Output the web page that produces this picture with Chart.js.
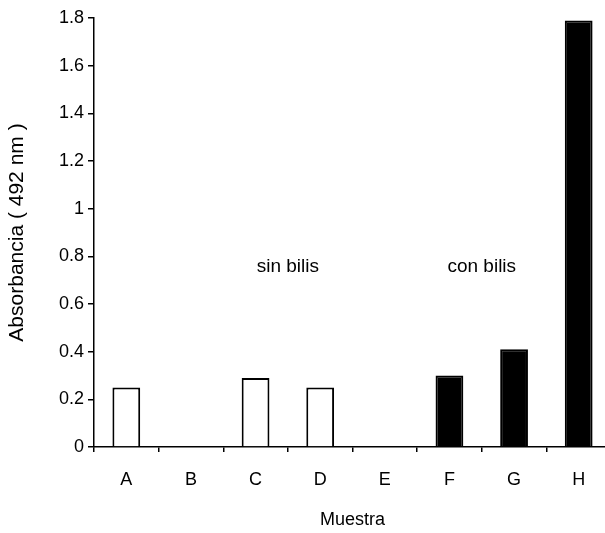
<!DOCTYPE html>
<html>
<head>
<meta charset="utf-8">
<script src="https://cdn.jsdelivr.net/npm/chart.js@4"></script>
<style>
html,body{margin:0;padding:0;background:#fff;overflow:hidden;}
#wrap{width:611px;height:533px;}
</style>
</head>
<body>
<div id="wrap"><canvas id="c" width="611" height="533"></canvas></div>
<script>
const categories = ['A','B','C','D','E','F','G','H'];
const absorbance = [0.25, 0, 0.29, 0.25, 0, 0.30, 0.41, 1.79];
const withBile = [false, false, false, false, true, true, true, true];
const yTicks = [0, 0.2, 0.4, 0.6, 0.8, 1, 1.2, 1.4, 1.6, 1.8];
const groupLabels = [
  {text: 'sin bilis', between: [2, 3], y: 0.755},
  {text: 'con bilis', between: [5, 6], y: 0.755}
];

const FONT = '"Liberation Sans", Arial, sans-serif';

const annotatePlugin = {
  id: 'groupText',
  afterDatasetsDraw(chart) {
    const ctx = chart.ctx;
    const xs = chart.scales.x, ys = chart.scales.y;
    ctx.save();
    ctx.fillStyle = '#000';
    ctx.font = '19px ' + FONT;
    ctx.textAlign = 'center';
    ctx.textBaseline = 'middle';
    groupLabels.forEach(g => {
      const x = (xs.getPixelForValue(g.between[0]) + xs.getPixelForValue(g.between[1])) / 2;
      ctx.fillText(g.text, x, ys.getPixelForValue(g.y));
    });
    ctx.restore();
  }
};

new Chart(document.getElementById('c'), {
  type: 'bar',
  data: {
    labels: categories,
    datasets: [{
      data: absorbance,
      backgroundColor: ctx => withBile[ctx.dataIndex] ? '#000' : '#fff',
      borderColor: '#000',
      borderWidth: 2,
      borderSkipped: 'bottom',
      barPercentage: 0.43,
      categoryPercentage: 1
    }]
  },
  options: {
    responsive: false,
    animation: false,
    devicePixelRatio: 1,
    layout: {padding: {top: 18, left: 0, right: 0, bottom: 0}},
    plugins: {legend: {display: false}, tooltip: {enabled: false}},
    scales: {
      x: {
        grid: {display: true, drawOnChartArea: false, drawTicks: true, tickLength: 5, color: '#000', lineWidth: 1.5, offset: true},
        border: {display: true, color: '#000', width: 1.5},
        ticks: {color: '#000', font: {family: FONT, size: 18}, padding: 17},
        title: {display: true, text: 'Muestra', color: '#000', font: {family: FONT, size: 18}, padding: {top: 0, bottom: 2}},
        afterFit(scale) { scale.height = 86; }
      },
      y: {
        min: 0, max: 1.8,
        afterBuildTicks(scale) { scale.ticks = yTicks.map(v => ({value: v})); },
        grid: {display: true, drawOnChartArea: false, drawTicks: true, tickLength: 6, color: '#000', lineWidth: 1.5},
        border: {display: true, color: '#000', width: 1.5},
        ticks: {color: '#000', font: {family: FONT, size: 18}, padding: 4, callback: v => String(Math.round(v * 10) / 10)},
        title: {display: true, text: 'Absorbancia ( 492 nm )', color: '#000', font: {family: FONT, size: 21}, padding: {top: 5, bottom: 0}},
        afterFit(scale) { scale.width = 94; }
      }
    }
  },
  plugins: [annotatePlugin]
});
</script>
</body>
</html>
